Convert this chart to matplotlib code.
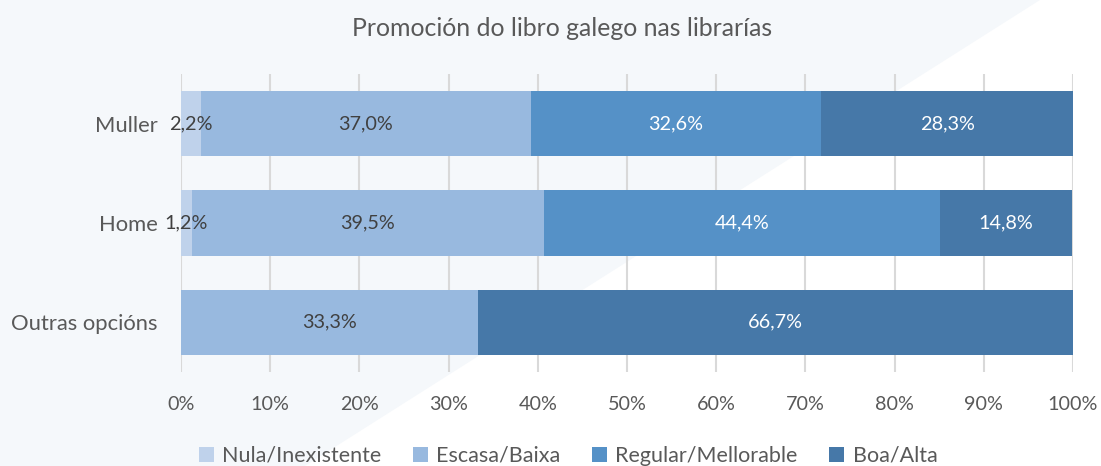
import numpy as np
import matplotlib.pyplot as plt
from matplotlib.patches import Polygon

categories = ["Muller", "Home", "Outras opcións"]
series = ["Nula/Inexistente", "Escasa/Baixa", "Regular/Mellorable", "Boa/Alta"]
nula = [2.2, 1.2, 0.0]
escasa = [37.0, 39.5, 33.3]
regular = [32.6, 44.4, 0.0]
boa = [28.3, 14.8, 66.7]

colors = ["#BFD2EB", "#98B9DF", "#5591C7", "#4678A8"]
text_colors = ["#404040", "#404040", "white", "white"]

plt.rcParams['font.family'] = ['Lato', 'DejaVu Sans']

fig = plt.figure(figsize=(11.01, 4.66), dpi=100)
fig.patch.set_facecolor("white")

# light diagonal background shape
bg = Polygon([[0, 1], [1040 / 1101, 1], [305 / 1101, 0], [0, 0]], closed=True,
             transform=fig.transFigure, facecolor="#F5F8FB", edgecolor="none", zorder=-5)
fig.patches.append(bg)

ax = fig.add_axes([181 / 1101, 1 - 372 / 466, 892 / 1101, 298 / 466])
ax.set_facecolor("none")
ax.set_zorder(2)

y = np.arange(len(categories))
left = np.zeros(len(categories))
for vals, name, c, tc in zip([nula, escasa, regular, boa], series, colors, text_colors):
    vals = np.array(vals)
    ax.barh(y, vals, left=left, height=0.66, color=c, label=name, zorder=3)
    for yi, v, l in zip(y, vals, left):
        if v > 0:
            ax.text(l + v / 2, yi, f"{v:.1f}%".replace(".", ","), ha="center", va="center",
                    fontsize=14.3, color=tc, zorder=4)
    left += vals

ax.set_xlim(0, 100)
ax.set_ylim(2.5, -0.5)
ax.set_yticks(y)
ax.set_yticklabels(categories)
ax.set_xticks(np.arange(0, 101, 10))
ax.set_xticklabels([f"{t}%" for t in range(0, 101, 10)])
ax.tick_params(axis="both", length=0, labelcolor="#595959")
ax.tick_params(axis="y", pad=17, labelsize=15.8)
ax.tick_params(axis="x", pad=17, labelsize=14.2)
ax.grid(axis="x", color="#D9D9D9", linewidth=1.5, zorder=0)
for s in ax.spines.values():
    s.set_visible(False)

fig.text(562 / 1101, 1 - 28 / 466, "Promoción do libro galego nas librarías",
         ha="center", va="center", fontsize=17.9, color="#595959")

fig.legend(loc="center", bbox_to_anchor=(568 / 1101, 1 - 456 / 466), ncol=4, frameon=False,
           fontsize=15.5, labelcolor="#595959", handlelength=0.7, handleheight=0.7,
           handletextpad=0.4, columnspacing=1.45)

fig.savefig("out.png", dpi=100)
